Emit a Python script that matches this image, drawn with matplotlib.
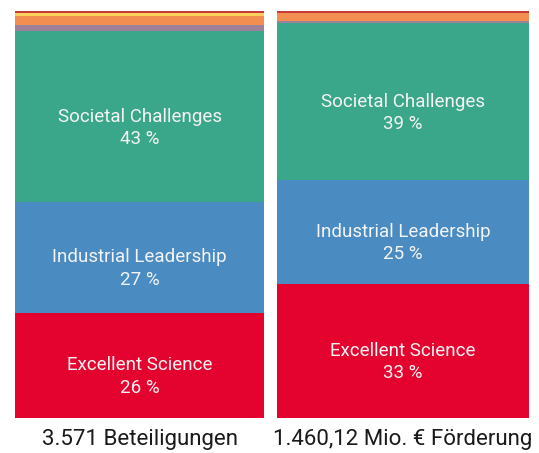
import numpy as np
import matplotlib.pyplot as plt

plt.rcParams['font.family'] = ['Roboto', 'DejaVu Sans']

# segments from bottom to top
segments = ['Excellent Science', 'Industrial Leadership', 'Societal Challenges',
            'Sonstige 1', 'Sonstige 2', 'Sonstige 3', 'Sonstige 4']
colours = ['#e4032e', '#4a8bc2', '#3aa68a', '#9e8098', '#f28e50', '#fad25c', '#c83a3a']

beteiligungen = [25.8, 27.3, 41.9, 1.5, 2.3, 0.7, 0.5]
foerderung = [32.9, 25.5, 38.6, 0.5, 2.0, 0.0, 0.5]

labels_left = ['26 %', '27 %', '43 %']
labels_right = ['33 %', '25 %', '39 %']

titles = ['3.571 Beteiligungen', '1.460,12 Mio. € Förderung']

W, H = 539, 453
fig = plt.figure(figsize=(W / 100, H / 100), dpi=100)

boxes = [(15, 264), (277, 529)]
top, bottom = 11, 418

for (x0, x1), values, pct, title in zip(boxes, [beteiligungen, foerderung],
                                         [labels_left, labels_right], titles):
    ax = fig.add_axes([x0 / W, (H - bottom) / H, (x1 - x0) / W, (bottom - top) / H])
    base = 0
    for name, val, col in zip(segments, values, colours):
        ax.bar(0, val, bottom=base, width=1, color=col, linewidth=0)
        base += val
    ax.set_xlim(-0.5, 0.5)
    ax.set_ylim(0, base)
    ax.axis('off')

    cum = np.cumsum([0] + values[:3])
    for i in range(3):
        mid = (cum[i] + cum[i + 1]) / 2
        ax.text(0, mid, segments[i], ha='center', va='center',
                color='#f4f4f4', fontsize=13.5)
        ax.annotate(pct[i], (0, mid), xytext=(0, -16), textcoords='offset points',
                    ha='center', va='center', color='#f4f4f4', fontsize=13.5)

    fig.text((x0 + x1) / 2 / W, 1 - 440 / H, title, ha='center', va='center',
             fontsize=16, color='#1a1a1a')

fig.savefig('out.png', dpi=100)
